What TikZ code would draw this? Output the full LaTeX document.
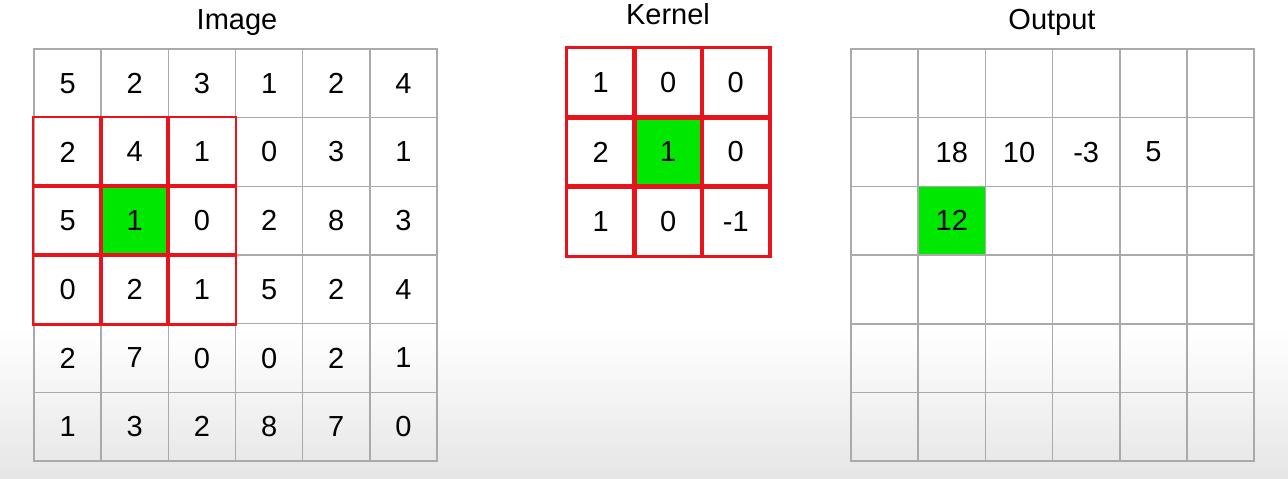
\documentclass[tikz,border=0pt]{standalone}
\usepackage{fontspec}
\setmainfont{Liberation Sans}
\usetikzlibrary{positioning}

\definecolor{gridgray}{RGB}{170,170,170}
\definecolor{boxred}{RGB}{232,20,28}
\definecolor{hotgreen}{RGB}{0,232,0}

\tikzset{
  cell/.style={draw=gridgray,line width=1.5pt,minimum width=67.2pt,minimum height=68.7pt,
    inner sep=0pt,font=\fontsize{29}{29}\selectfont},
  hot/.style={draw=boxred,line width=2.4pt},
  centre/.style={fill=hotgreen},
  title/.style={font=\fontsize{29}{29}\selectfont,anchor=base,inner sep=0pt}
}

\begin{document}
\begin{tikzpicture}[x=1pt,y=-1pt]
\useasboundingbox (0,0) rectangle (1288,479);
% background fading to grey at the bottom
\fill[white] (0,0) rectangle (1288,330);
\shade[top color=white,bottom color=gray!20] (0,330) rectangle (1288,479);

% Image
\foreach \row [count=\r from 0] in {{5,2,3,1,2,4},{2,4,1,0,3,1},{5,1,0,2,8,3},{0,2,1,5,2,4},{2,7,0,0,2,1},{1,3,2,8,7,0}}
  \foreach \v [count=\c from 0] in \row
    \node[cell] (img-\r-\c) at ({34+67.17*(\c+0.5)},{49+68.67*(\r+0.5)}) {\v};
\fill[hotgreen] (img-2-1.north west) rectangle (img-2-1.south east);
\node[font=\fontsize{29}{29}\selectfont] at (img-2-1) {1};
\foreach \r in {1,2,3}
  \foreach \c in {0,1,2}
    \draw[hot] (img-\r-\c.north west) rectangle (img-\r-\c.south east);
\node[title] (imgtitle) at (237,29) {Image};

% Kernel
\foreach \row [count=\r from 0] in {{1,0,0},{2,1,0},{1,0,-1}}
  \foreach \v [count=\c from 0] in \row
    \node[cell,hot,minimum width=67.5pt,minimum height=69.3pt] (ker-\r-\c) at ({567+67.5*(\c+0.5)},{48+69.3*(\r+0.5)}) {\v};
\fill[hotgreen] (ker-1-1.north west) rectangle (ker-1-1.south east);
\node[font=\fontsize{29}{29}\selectfont] at (ker-1-1) {1};
\foreach \r in {0,1,2}
  \foreach \c in {0,1,2}
    \draw[hot] (ker-\r-\c.north west) rectangle (ker-\r-\c.south east);
\node[title] (kertitle) at (668,24) {Kernel};

% Output
\foreach \row [count=\r from 0] in {{,,,,,},{,18,10,-3,5,},{,12,,,,},{,,,,,},{,,,,,},{,,,,,}}
  \foreach \v [count=\c from 0] in \row
    \node[cell] (out-\r-\c) at ({851+67.2*(\c+0.5)},{49+68.7*(\r+0.5)}) {\v};
\node[cell,centre] (out-2-1) at (out-2-1) {12};
\node[title] (outtitle) at (1052,29) {Output};
\end{tikzpicture}
\end{document}
